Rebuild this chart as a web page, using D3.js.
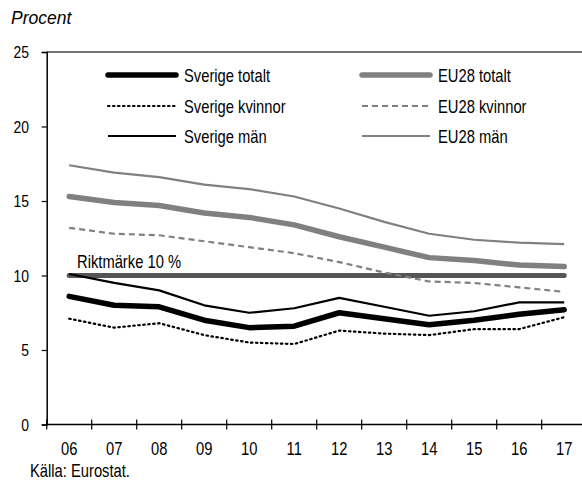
<!DOCTYPE html>
<html>
<head>
<meta charset="utf-8">
<script src="https://cdn.jsdelivr.net/npm/d3@7"></script>
<style>
  body { margin: 0; background: #fff; }
  svg { display: block; }
</style>
</head>
<body>
<svg id="chart" width="582" height="482"></svg>
<script>
// Arbetslöshet 2006–2017, procent
const years = ["06", "07", "08", "09", "10", "11", "12", "13", "14", "15", "16", "17"];
const yTicks = [0, 5, 10, 15, 20, 25];

const sverigeTotalt = [8.6, 8.0, 7.9, 7.0, 6.5, 6.6, 7.5, 7.1, 6.7, 7.0, 7.4, 7.7];
const sverigeKvinnor = [7.1, 6.5, 6.8, 6.0, 5.5, 5.4, 6.3, 6.1, 6.0, 6.4, 6.4, 7.2];
const sverigeMan = [10.1, 9.5, 9.0, 8.0, 7.5, 7.8, 8.5, 7.9, 7.3, 7.6, 8.2, 8.2];
const eu28Totalt = [15.3, 14.9, 14.7, 14.2, 13.9, 13.4, 12.6, 11.9, 11.2, 11.0, 10.7, 10.6];
const eu28Kvinnor = [13.2, 12.8, 12.7, 12.3, 11.9, 11.5, 10.9, 10.2, 9.6, 9.5, 9.2, 8.9];
const eu28Man = [17.4, 16.9, 16.6, 16.1, 15.8, 15.3, 14.5, 13.6, 12.8, 12.4, 12.2, 12.1];
const riktmarke = years.map(() => 10);

// no condensed face installed, so squeeze Liberation Sans horizontally
const font = "'Liberation Sans', Arial, sans-serif";
const squeeze = 0.82;

const series = [
  { name: "Riktmärke", values: riktmarke, color: "#555", width: 5, dash: null, legend: false },
  { name: "EU28 män", values: eu28Man, color: "#808080", width: 2.2, dash: null, col: 1, row: 2 },
  { name: "EU28 totalt", values: eu28Totalt, color: "#808080", width: 5.5, dash: null, col: 1, row: 0 },
  { name: "EU28 kvinnor", values: eu28Kvinnor, color: "#808080", width: 2.2, dash: "6,4", col: 1, row: 1 },
  { name: "Sverige män", values: sverigeMan, color: "#000", width: 2.2, dash: null, col: 0, row: 2 },
  { name: "Sverige kvinnor", values: sverigeKvinnor, color: "#000", width: 2.2, dash: "1.5,3.5", col: 0, row: 1 },
  { name: "Sverige totalt", values: sverigeTotalt, color: "#000", width: 5.5, dash: null, col: 0, row: 0 },
];

const svg = d3.select("#chart");
const plotLeft = 46.7, plotTop = 52, plotBottom = 424.5;

function label(parent, x, y, str, anchor = "start", size = 18) {
  return parent.append("text")
    .attr("transform", `translate(${x},${y}) scale(${squeeze},1)`)
    .attr("text-anchor", anchor)
    .attr("font-family", font)
    .attr("font-size", size)
    .attr("fill", "#000")
    .text(str);
}

const x = d3.scaleBand().domain(years).range([plotLeft, plotLeft + 45 * years.length]);
const y = d3.scaleLinear().domain([0, 25]).range([plotBottom, plotTop]);

// Top frame line
svg.append("line")
  .attr("x1", plotLeft).attr("x2", 582)
  .attr("y1", y(25)).attr("y2", y(25))
  .attr("stroke", "#444").attr("stroke-width", 1.5);

// Y axis
const yAxis = svg.append("g")
  .attr("transform", `translate(${plotLeft},0)`)
  .call(d3.axisLeft(y).tickValues(yTicks).tickSize(5));
yAxis.select(".domain").attr("stroke", "#000").attr("stroke-width", 1.5);
yAxis.selectAll(".tick line").attr("stroke", "#000").attr("stroke-width", 1.2);
yAxis.selectAll(".tick text").remove();
yTicks.forEach((t) => label(svg, 29, y(t) + 6, t, "end", 17));

// X axis: ticks on band boundaries, crossing the axis line
const xg = svg.append("g");
xg.append("line")
  .attr("x1", plotLeft).attr("x2", 582)
  .attr("y1", plotBottom).attr("y2", plotBottom)
  .attr("stroke", "#000").attr("stroke-width", 1.5);
xg.selectAll("line.tk")
  .data(years)
  .join("line")
  .attr("class", "tk")
  .attr("x1", (d) => x(d)).attr("x2", (d) => x(d))
  .attr("y1", plotBottom - 5).attr("y2", plotBottom + 5)
  .attr("stroke", "#000").attr("stroke-width", 1.2);
years.forEach((d) => label(xg, x(d) + x.bandwidth() / 2, plotBottom + 30, d, "middle"));

// Lines
const line = d3.line()
  .x((d, i) => x(years[i]) + x.bandwidth() / 2)
  .y((d) => y(d));

const capOf = (s) => (s.width > 3 || (s.dash && s.dash.startsWith("1.5")) ? "round" : "butt");

svg.append("g").selectAll("path")
  .data(series)
  .join("path")
  .attr("d", (s) => line(s.values))
  .attr("fill", "none")
  .attr("stroke", (s) => s.color)
  .attr("stroke-width", (s) => s.width)
  .attr("stroke-dasharray", (s) => s.dash)
  .attr("stroke-linecap", capOf)
  .attr("stroke-linejoin", "round");

// Riktmärke label
label(svg, 77, y(10) - 8, "Riktmärke 10 %");

// Legend
const legCols = [108, 362];
const legRows = [75, 106, 136];
const leg = svg.append("g");
series.filter((s) => s.legend !== false).forEach((s) => {
  const lx = legCols[s.col], ly = legRows[s.row];
  leg.append("line")
    .attr("x1", lx).attr("x2", lx + 68)
    .attr("y1", ly).attr("y2", ly)
    .attr("stroke", s.color)
    .attr("stroke-width", s.width)
    .attr("stroke-dasharray", s.dash)
    .attr("stroke-linecap", capOf(s));
  label(leg, lx + 76, ly + 6.5, s.name);
});

// Titles
svg.append("text")
  .attr("x", 11).attr("y", 24)
  .attr("font-family", font)
  .attr("font-style", "italic").attr("font-size", 17.5)
  .text("Procent");

label(svg, 30, 477, "Källa: Eurostat.");
</script>
</body>
</html>
